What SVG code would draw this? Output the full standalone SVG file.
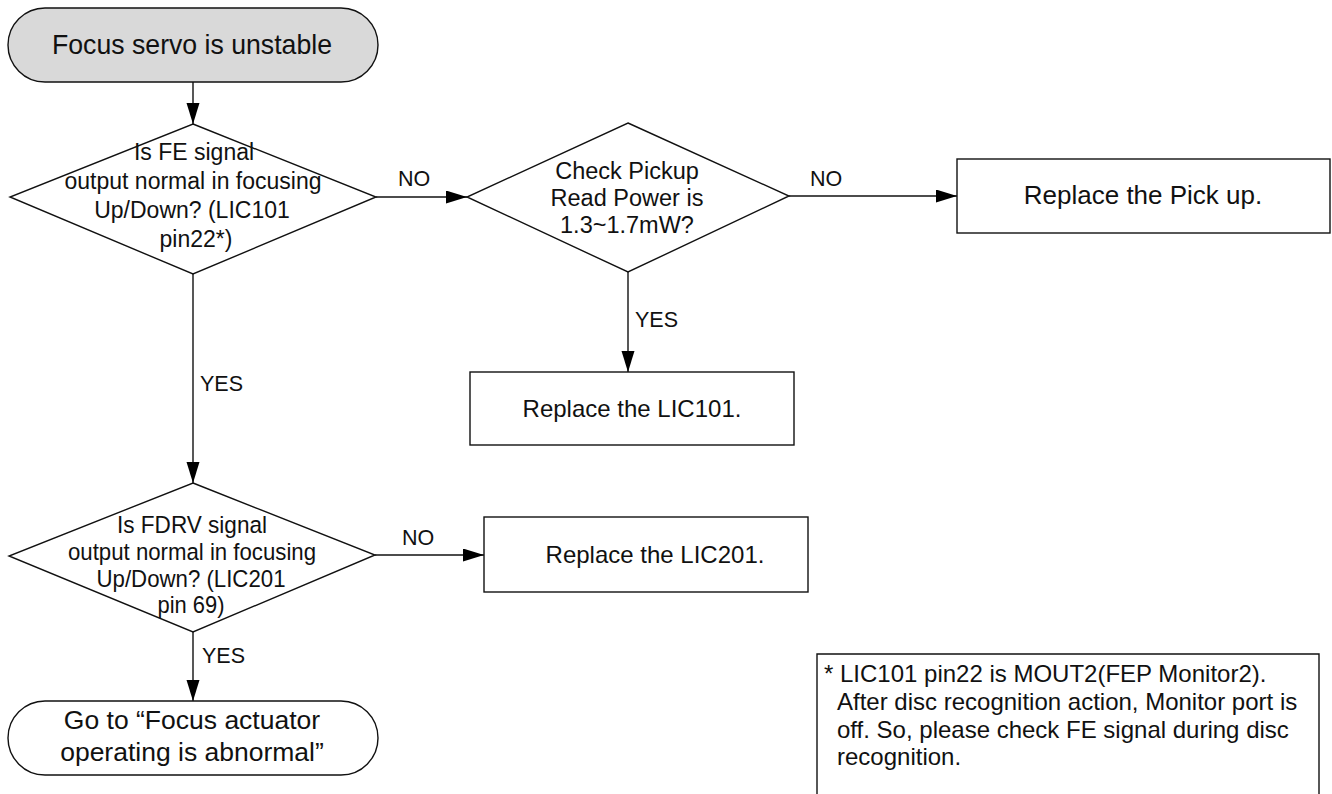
<svg xmlns="http://www.w3.org/2000/svg" width="1332" height="794" viewBox="0 0 1332 794">
<defs>
<marker id="arr" markerUnits="userSpaceOnUse" markerWidth="22" markerHeight="14" refX="21" refY="6.5" orient="auto">
<path d="M0,0 L21,6.5 L0,13 z" fill="#000"/>
</marker>
<style>
text{font-family:"Liberation Sans",Arial,sans-serif;fill:#111;}
.shape{fill:#fff;stroke:#111;stroke-width:1.4;}
.start{fill:#d9d9d9;stroke:#111;stroke-width:1.4;}
.c{text-anchor:middle;}
.lbl{font-size:21.5px;}
.conn{stroke:#111;stroke-width:1.4;fill:none;marker-end:url(#arr);}
</style>
</defs>
<rect width="1332" height="794" fill="#fff"/>

<g id="connectors">
<line class="conn" x1="193" y1="82" x2="193" y2="124"/>
<line class="conn" x1="376" y1="197" x2="467" y2="197"/>
<line class="conn" x1="789" y1="196" x2="957" y2="196"/>
<line class="conn" x1="628" y1="272" x2="628" y2="372"/>
<line class="conn" x1="193" y1="274" x2="193" y2="483"/>
<line class="conn" x1="375" y1="555" x2="484" y2="555"/>
<line class="conn" x1="193" y1="632" x2="193" y2="701"/>
<text class="lbl" x="398" y="186">NO</text>
<text class="lbl" x="810" y="186">NO</text>
<text class="lbl" x="635" y="327">YES</text>
<text class="lbl" x="200" y="391">YES</text>
<text class="lbl" x="402" y="545">NO</text>
<text class="lbl" x="202" y="663">YES</text>
</g>

<g id="start">
<rect class="start" x="8" y="8" width="370" height="74" rx="37" ry="37"/>
<text class="c" x="192" y="54" font-size="28.5" textLength="280" lengthAdjust="spacingAndGlyphs">Focus servo is unstable</text>
</g>

<g id="q1">
<polygon class="shape" points="193,124 376,197 193,274 10,197"/>
<text class="c" font-size="23"><tspan x="194" y="160">Is FE signal</tspan><tspan x="193" y="189">output normal in focusing</tspan><tspan x="192" y="218">Up/Down? (LIC101</tspan><tspan x="196" y="247">pin22*)</tspan></text>
</g>

<g id="q2">
<polygon class="shape" points="628,123 789,196 628,272 467,197"/>
<text class="c" font-size="23.5"><tspan x="627" y="179">Check Pickup</tspan><tspan x="627" y="206">Read Power is</tspan><tspan x="627" y="233">1.3~1.7mW?</tspan></text>
</g>

<g id="pickup">
<rect class="shape" x="957" y="159" width="373" height="74"/>
<text class="c" x="1143" y="204" font-size="26">Replace the Pick up.</text>
</g>

<g id="lic101">
<rect class="shape" x="470" y="372" width="324" height="73"/>
<text class="c" x="632" y="417" font-size="24">Replace the LIC101.</text>
</g>

<g id="q3">
<polygon class="shape" points="193,483 375,555 193,632 9,556"/>
<text class="c" font-size="24.5"><tspan x="192" y="533" textLength="150" lengthAdjust="spacingAndGlyphs">Is FDRV signal</tspan><tspan x="192" y="560" textLength="248" lengthAdjust="spacingAndGlyphs">output normal in focusing</tspan><tspan x="191" y="587" textLength="189" lengthAdjust="spacingAndGlyphs">Up/Down? (LIC201</tspan><tspan x="191" y="613" textLength="67" lengthAdjust="spacingAndGlyphs">pin 69)</tspan></text>
</g>

<g id="lic201">
<rect class="shape" x="484" y="517" width="324" height="75"/>
<text class="c" x="655" y="563" font-size="24">Replace the LIC201.</text>
</g>

<g id="end">
<rect class="shape" x="8" y="701" width="370" height="74" rx="37" ry="37"/>
<text class="c" font-size="26.5"><tspan x="192" y="729">Go to “Focus actuator</tspan><tspan x="192" y="761">operating is abnormal”</tspan></text>
</g>

<g id="note">
<polyline class="shape" points="817,800 817,654 1319,654 1319,800"/>
<text font-size="24"><tspan x="824" y="682">* LIC101 pin22 is MOUT2(FEP Monitor2).</tspan><tspan x="837" y="710">After disc recognition action, Monitor port is</tspan><tspan x="837" y="738">off. So, please check FE signal during disc</tspan><tspan x="837" y="765">recognition.</tspan></text>
</g>
</svg>
